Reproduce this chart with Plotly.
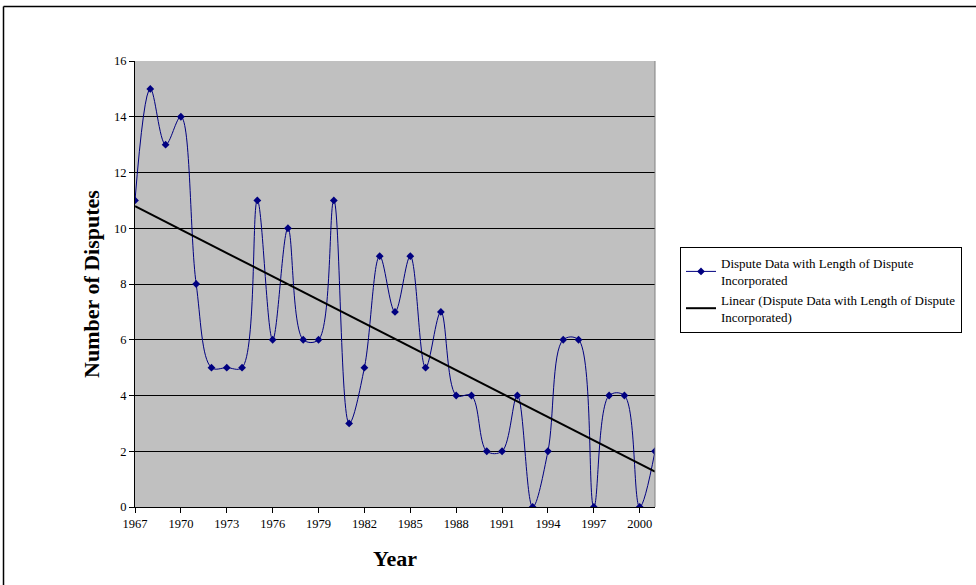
import numpy as np
import plotly.graph_objects as go

years = list(range(1967, 2002))
disputes = [11, 15, 13, 14, 8, 5, 5, 5, 11, 6, 10, 6, 6, 11, 3, 5, 9, 7, 9, 5,
            7, 4, 4, 2, 2, 4, 0, 2, 6, 6, 0, 4, 4, 0, 2]
x_ticks = list(range(1967, 2002, 3))
y_ticks = list(range(0, 17, 2))

series_name = "Dispute Data with Length of Dispute<br>Incorporated"
trend_name = "Linear (Dispute Data with Length of Dispute<br>Incorporated)"

coef = np.polyfit(years, disputes, 1)
trend = np.polyval(coef, years)

W, H = 976, 585
L, R, T, B = 135, 655, 61, 507

fig = go.Figure()
fig.add_trace(go.Scatter(
    x=years, y=disputes, mode="lines+markers", name=series_name,
    line=dict(color="#000080", width=1, shape="spline", smoothing=1.0),
    marker=dict(symbol="diamond", size=6, color="#000080"),
))
fig.add_trace(go.Scatter(
    x=years, y=trend, mode="lines", name=trend_name,
    line=dict(color="black", width=2),
))

font = "Liberation Serif, Times New Roman, serif"

def px_x(p):
    return (p - L) / (R - L)

def px_y(p):
    return (B - p) / (B - T)

fig.update_layout(
    width=W, height=H,
    margin=dict(l=L, r=W - R, t=T, b=H - B, pad=0, autoexpand=False),
    paper_bgcolor="white",
    plot_bgcolor="#C0C0C0",
    font=dict(family=font, size=12.5, color="black"),
    showlegend=True,
    legend=dict(
        x=px_x(680), y=px_y(247), xanchor="left", yanchor="top",
        bgcolor="white", bordercolor="black", borderwidth=1,
        font=dict(family=font, size=13, color="black"),
        tracegroupgap=0, itemwidth=30,
    ),
    xaxis=dict(
        range=[1967, 2001], tickmode="array", tickvals=x_ticks,
        ticks="outside", ticklen=5, tickcolor="black",
        showgrid=False, zeroline=False,
        showline=True, linecolor="black", linewidth=1,
        title=dict(text="<b>Year</b>", font=dict(family=font, size=22), standoff=20),
        tickfont=dict(family=font, size=12.5),
    ),
    yaxis=dict(
        range=[0, 16], tickmode="array", tickvals=y_ticks,
        ticks="outside", ticklen=5, tickcolor="black",
        showgrid=True, gridcolor="black", gridwidth=1, zeroline=False,
        showline=True, linecolor="black", linewidth=1,
        title=dict(text="<b>Number of Disputes</b>", font=dict(family=font, size=22), standoff=8),
        tickfont=dict(family=font, size=12.5),
    ),
    shapes=[
        dict(type="line", xref="paper", yref="paper",
             x0=px_x(3.5), x1=px_x(990), y0=px_y(6.5), y1=px_y(6.5),
             line=dict(color="black", width=1.5)),
        dict(type="line", xref="paper", yref="paper",
             x0=px_x(3.5), x1=px_x(3.5), y0=px_y(6.5), y1=px_y(600),
             line=dict(color="black", width=1.5)),
        dict(type="line", xref="paper", yref="paper",
             x0=1, x1=1, y0=0, y1=1,
             line=dict(color="#808080", width=1)),
    ],
)

fig.write_html("out.html", config={"displayModeBar": False},
               post_script="document.body.style.margin='0';")
